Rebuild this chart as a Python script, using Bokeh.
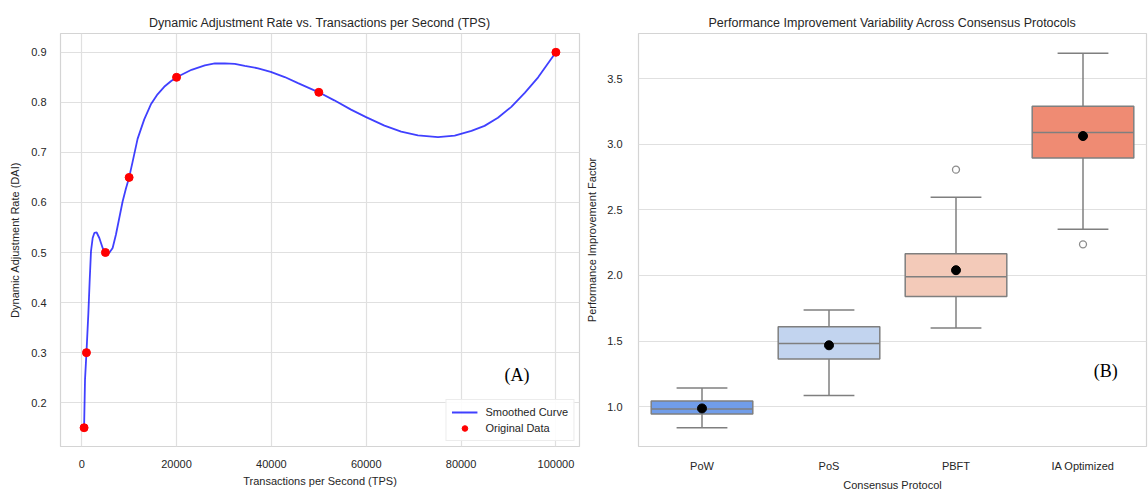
import numpy as np
from bokeh.plotting import figure
from bokeh.layouts import row
from bokeh.models import Range1d, FixedTicker, NumeralTickFormatter, Label, ColumnDataSource
from bokeh.embed import file_html
from bokeh.resources import INLINE

# ---------------- data: panel A ----------------
tps = [500, 1000, 5000, 10000, 20000, 50000, 100000]
dai = [0.15, 0.30, 0.50, 0.65, 0.85, 0.82, 0.90]

# smoothed curve
curve_tps = [500, 695, 1000, 1397, 1677, 1958, 2309, 2659, 3150, 3712, 4414, 5000,
             5817, 6519, 7220, 7922, 8624, 9325, 10000, 10729, 11781, 13184, 14588,
             15991, 17394, 18798, 20000, 23158, 25965, 28070, 30175, 32281, 34386,
             37193, 39859, 42807, 45614, 50000, 53263, 56790, 59965, 63845, 67372,
             70899, 75132, 78660, 82187, 84947, 87774, 90600, 93428, 96254, 100000]
curve_dai = [0.150, 0.246, 0.300, 0.378, 0.4435, 0.503, 0.529, 0.539, 0.540, 0.529,
             0.509, 0.500, 0.4995, 0.509, 0.536, 0.569, 0.602, 0.628, 0.650, 0.681,
             0.727, 0.766, 0.796, 0.816, 0.831, 0.842, 0.850, 0.865, 0.874, 0.8776,
             0.878, 0.877, 0.873, 0.868, 0.861, 0.8505, 0.8385, 0.820, 0.804, 0.7855,
             0.7705, 0.7535, 0.7415, 0.734, 0.7305, 0.7336, 0.743, 0.753, 0.7693,
             0.791, 0.819, 0.850, 0.900]

x_ticks_a = [0, 20000, 40000, 60000, 80000, 100000]
y_ticks_a = [0.2, 0.3, 0.4, 0.5, 0.6, 0.7, 0.8, 0.9]

# ---------------- data: panel B ----------------
protocols = ["PoW", "PoS", "PBFT", "IA Optimized"]
q1 = [0.945, 1.363, 1.840, 2.895]
median = [0.983, 1.481, 1.990, 3.088]
q3 = [1.043, 1.609, 2.165, 3.288]
whisker_low = [0.840, 1.085, 1.600, 2.352]
whisker_high = [1.143, 1.737, 2.595, 3.693]
means = [0.987, 1.468, 2.040, 3.062]
outlier_protocol = ["PBFT", "IA Optimized"]
outlier_value = [2.806, 2.237]
box_colors = ["#719de9", "#c2d4ef", "#f3cab9", "#ef8b73"]
y_ticks_b = [1.0, 1.5, 2.0, 2.5, 3.0, 3.5]

FONT = "Liberation Sans"
TEXT = "#262626"
GRID = "#e0e0e0"
EDGE = "#d4d4d4"


def style(p):
    p.title.text_font = FONT
    p.title.text_font_size = "12.5px"
    p.title.text_font_style = "normal"
    p.title.text_color = TEXT
    p.title.align = "center"
    p.title.standoff = 7
    p.outline_line_color = EDGE
    p.outline_line_width = 1.2
    for ax in p.axis:
        ax.axis_line_color = None
        ax.major_tick_line_color = None
        ax.minor_tick_line_color = None
        ax.major_label_text_font = FONT
        ax.major_label_text_font_size = "11px"
        ax.major_label_text_color = TEXT
        ax.axis_label_text_font = FONT
        ax.axis_label_text_font_size = "11px"
        ax.axis_label_text_font_style = "normal"
        ax.axis_label_text_color = TEXT
    p.grid.grid_line_color = GRID
    p.grid.grid_line_width = 1.2
    p.background_fill_color = "white"
    p.border_fill_color = "white"


# ---------------- panel A ----------------
pa = figure(width=583, height=493, output_backend="svg", toolbar_location=None,
            title="Dynamic Adjustment Rate vs. Transactions per Second (TPS)",
            x_range=Range1d(-4475, 104975), y_range=Range1d(0.1125, 0.9375),
            min_border_left=60, min_border_right=4, min_border_top=33, min_border_bottom=43)
style(pa)
pa.xaxis.ticker = FixedTicker(ticks=x_ticks_a)
pa.yaxis.ticker = FixedTicker(ticks=y_ticks_a)
pa.xaxis.formatter = NumeralTickFormatter(format="0")
pa.yaxis.formatter = NumeralTickFormatter(format="0.0")
pa.xaxis.axis_label = "Transactions per Second (TPS)"
pa.yaxis.axis_label = "Dynamic Adjustment Rate (DAI)"
pa.xaxis.major_label_standoff = 7
pa.xaxis.axis_label_standoff = 4
pa.yaxis.major_label_standoff = 8
pa.yaxis.axis_label_standoff = 7

pa.line(curve_tps, curve_dai, line_color="blue", line_alpha=0.75, line_width=1.8,
        legend_label="Smoothed Curve")
pa.scatter(tps, dai, size=8, fill_color="red", line_color="red", legend_label="Original Data")

lg = pa.legend[0]
lg.location = "bottom_right"
lg.margin = 5
lg.padding = 5
lg.spacing = 2
lg.label_text_font = FONT
lg.label_text_font_size = "11px"
lg.label_text_color = TEXT
lg.label_height = 14
lg.glyph_height = 14
lg.glyph_width = 26
lg.label_standoff = 8
lg.border_line_color = "#d9d9d9"
lg.border_line_width = 1
lg.background_fill_alpha = 0.9

pa.add_layout(Label(x=91800, y=0.256, text="(A)", text_font="Liberation Serif",
                    text_font_size="18px", text_align="center", text_baseline="middle",
                    text_color="black"))

# ---------------- panel B ----------------
pb = figure(width=565, height=493, output_backend="svg", toolbar_location=None,
            title="Performance Improvement Variability Across Consensus Protocols",
            x_range=Range1d(-0.5, 3.5), y_range=Range1d(0.697, 3.843),
            min_border_left=48, min_border_right=2, min_border_top=33, min_border_bottom=43)
style(pb)
pb.xgrid.visible = False
pb.xaxis.ticker = FixedTicker(ticks=list(range(len(protocols))))
pb.xaxis.major_label_overrides = {i: name for i, name in enumerate(protocols)}
pb.yaxis.ticker = FixedTicker(ticks=y_ticks_b)
pb.yaxis.formatter = NumeralTickFormatter(format="0.0")
pb.xaxis.axis_label = "Consensus Protocol"
pb.yaxis.axis_label = "Performance Improvement Factor"
pb.xaxis.major_label_standoff = 7
pb.xaxis.axis_label_standoff = 4
pb.yaxis.major_label_standoff = 10
pb.yaxis.axis_label_standoff = 6

xs = np.arange(len(protocols), dtype=float)
src = ColumnDataSource(dict(
    x=xs, q1=q1, med=median, q3=q3, lo=whisker_low, hi=whisker_high, mean=means,
    color=box_colors, xl=xs - 0.4, xr=xs + 0.4, cl=xs - 0.2, cr=xs + 0.2))

LINE = "#7f7f7f"
pb.segment(x0="x", y0="q3", x1="x", y1="hi", source=src, line_color=LINE, line_width=1.5)
pb.segment(x0="x", y0="q1", x1="x", y1="lo", source=src, line_color=LINE, line_width=1.5)
pb.segment(x0="cl", y0="hi", x1="cr", y1="hi", source=src, line_color=LINE, line_width=1.5)
pb.segment(x0="cl", y0="lo", x1="cr", y1="lo", source=src, line_color=LINE, line_width=1.5)
pb.vbar(x="x", bottom="q1", top="q3", width=0.8, source=src, fill_color="color",
        line_color=LINE, line_width=1.5)
pb.segment(x0="xl", y0="med", x1="xr", y1="med", source=src, line_color=LINE, line_width=1.5)
pb.scatter(x="x", y="mean", source=src, size=9, fill_color="black", line_color="black")

out_x = [protocols.index(n) for n in outlier_protocol]
pb.scatter(out_x, outlier_value, size=7, fill_color=None, line_color="#8c8c8c", line_width=1.3)

pb.add_layout(Label(x=3.18, y=1.27, text="(B)", text_font="Liberation Serif",
                    text_font_size="18px", text_align="center", text_baseline="middle",
                    text_color="black"))

layout = row(pa, pb, spacing=0)
open("out.html", "w").write(file_html(layout, INLINE))
